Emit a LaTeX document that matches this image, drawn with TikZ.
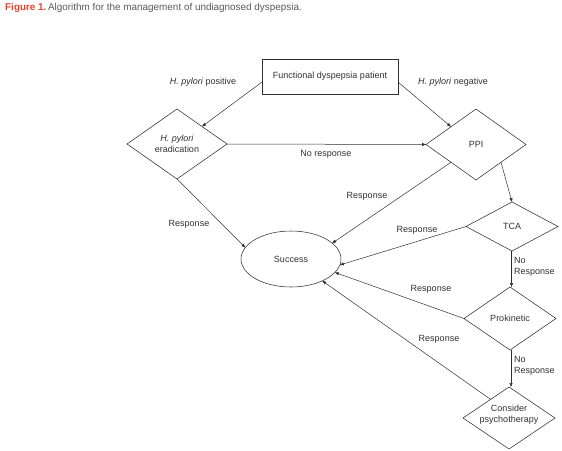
\documentclass[tikz,border=0pt]{standalone}
\usepackage{fontspec}
\setmainfont{Liberation Sans}
\usetikzlibrary{shapes.geometric,arrows.meta,calc}
\definecolor{figred}{HTML}{E8432D}
\definecolor{capgray}{HTML}{58595B}
\definecolor{ink}{HTML}{303030}
\begin{document}
\begin{tikzpicture}[x=1pt,y=-1pt,
  every node/.style={font=\fontsize{9}{11}\selectfont, text=ink},
  rectbox/.style={draw=ink, line width=0.55pt, rectangle, inner sep=0pt, outer sep=0pt},
  dia/.style={draw=ink, line width=0.55pt, diamond, inner sep=0pt, outer sep=0pt},
  ell/.style={draw=ink, line width=0.55pt, ellipse, inner sep=0pt, outer sep=0pt},
  arr/.style={draw=ink, line width=0.5pt, -{Triangle[length=4pt,width=3pt]}},
  lbl/.style={inner sep=0pt, align=center},
  lbll/.style={inner sep=0pt, align=left, anchor=north west}
]
\useasboundingbox (0,0) rectangle (562,450);

% caption
\node[anchor=west, inner sep=0pt, font=\fontsize{9.9}{12}\selectfont] (cap) at (5,8)
  {\textcolor{figred}{\bfseries Figure 1.}\,\textcolor{capgray}{Algorithm for the management of undiagnosed dyspepsia.}};

% shapes
\node[rectbox, minimum width=136pt, minimum height=35pt] (fd) at (330,76.5) {Functional dyspepsia patient};
\node[dia, minimum width=100pt, minimum height=70pt] (hp) at (177,144) {};
\node[lbl] (hpt) at (177,144) {\textit{H. pylori}\\eradication};
\node[dia, minimum width=100pt, minimum height=71pt] (ppi) at (476,144.5) {};
\node[lbl] (ppit) at (476,144.5) {PPI};
\node[dia, minimum width=92pt, minimum height=49pt] (tca) at (512,226.5) {};
\node[lbl] (tcat) at (512,226.5) {TCA};
\node[dia, minimum width=92pt, minimum height=63pt] (prok) at (510,318.5) {};
\node[lbl] (prokt) at (510,318.5) {Prokinetic};
\node[dia, minimum width=92pt, minimum height=62pt] (psy) at (509,418) {};
\node[lbl] (psyt) at (509,414.5) {Consider\\psychotherapy};
\node[ell, minimum width=100pt, minimum height=56pt] (succ) at (291,259) {Success};

% connectors
\draw[arr] ([yshift=-5.5pt]fd.west) -- (hp.north east);
\draw[arr] ([yshift=-5.5pt]fd.east) -- (ppi.north west);
\draw[arr] (hp.east) -- (ppi.west);
\draw[arr] (hp.south) -- (succ.166);
\draw[arr] (ppi.south west) -- (succ.21);
\draw[arr] (ppi.south east) -- (tca.north);
\draw[arr] (tca.west) -- (succ.-7);
\draw[arr] ([xshift=-0.5pt]tca.south) -- ([xshift=-0.5pt]tca.south |- prok.north);
\draw[arr] (prok.west) -- (succ.-17);
\draw[arr] ([xshift=1pt]prok.south) -- ([xshift=1pt]prok.south |- psy.north);
\coordinate (psyul) at ($(psy.north)!0.4!(psy.west)$);
\draw[arr] (psyul) -- (succ.-35);

% labels
\node[lbl] (l1) at (203,82) {\textit{H. pylori} positive};
\node[lbl] (l2) at (453,82) {\textit{H. pylori} negative};
\node[lbl] (l3) at (326,154) {No response};
\node[lbl] (l4) at (189,224.5) {Response};
\node[lbl] (l5) at (367,196) {Response};
\node[lbl] (l6) at (417,230.5) {Response};
\node[lbl] (l7) at (431,289) {Response};
\node[lbl] (l8) at (439,339) {Response};
\node[lbll] (l9) at (514,257.5) {No\\Response};
\node[lbll] (l10) at (514,356.5) {No\\Response};
\end{tikzpicture}
\end{document}
